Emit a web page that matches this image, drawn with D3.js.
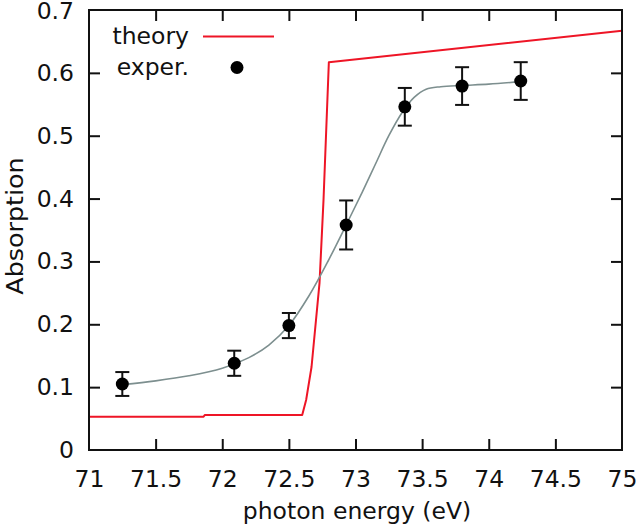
<!DOCTYPE html>
<html>
<head>
<meta charset="utf-8">
<script src="https://cdn.jsdelivr.net/npm/d3@7"></script>
<style>
  html, body { margin: 0; padding: 0; background: #fff; }
  svg { display: block; }
  text { font-family: "DejaVu Sans", sans-serif; fill: #111; }
</style>
</head>
<body>
<svg id="chart" width="640" height="529"></svg>
<script>
// Experimental data
const expEnergy = [71.25, 72.09, 72.50, 72.93, 73.37, 73.80, 74.24];
const expAbs    = [0.105, 0.138, 0.198, 0.358, 0.546, 0.579, 0.587];
const expErr    = [0.019, 0.020, 0.020, 0.039, 0.030, 0.030, 0.030];

// Theory curve
const theoryEnergy = [71.0, 71.86, 71.87, 72.60, 72.63, 72.67, 72.73, 72.76, 72.80, 75.0];
const theoryAbs    = [0.053, 0.053, 0.0557, 0.0557, 0.080, 0.132, 0.266, 0.398, 0.617, 0.667];

// Fit through experimental data
const fitEnergy = [71.25, 71.5, 71.75, 72.0, 72.2, 72.35, 72.5, 72.65, 72.8, 72.93, 73.05, 73.15, 73.25, 73.35, 73.44, 73.53, 73.64, 73.8, 74.0, 74.24];
const fitAbs    = [0.104, 0.110, 0.118, 0.130, 0.147, 0.167, 0.198, 0.245, 0.303, 0.358, 0.410, 0.455, 0.500, 0.537, 0.561, 0.574, 0.578, 0.580, 0.582, 0.586];

// Ticks
const xTicks = [71, 71.5, 72, 72.5, 73, 73.5, 74, 74.5, 75];
const yTicks = [0, 0.1, 0.2, 0.3, 0.4, 0.5, 0.6, 0.7];

const legendLabels = ["theory", "exper."];

const svg = d3.select("#chart");
const L = 89, R = 622, T = 10, B = 450;
const x = d3.scaleLinear().domain([71, 75]).range([L, R]);
const y = d3.scaleLinear().domain([0, 0.7]).range([B, T]);
const tickLen = 11;
const fs = 23.5;

// Theory line
svg.append("path")
  .datum(theoryEnergy.map((e, i) => [e, theoryAbs[i]]))
  .attr("fill", "none").attr("stroke", "#ee1526").attr("stroke-width", 2)
  .attr("stroke-linejoin", "round")
  .attr("d", d3.line().x(d => x(d[0])).y(d => y(d[1])));

// Fit line
svg.append("path")
  .datum(fitEnergy.map((e, i) => [e, fitAbs[i]]))
  .attr("fill", "none").attr("stroke", "#7d8f8f").attr("stroke-width", 1.6)
  .attr("d", d3.line().curve(d3.curveCatmullRom).x(d => x(d[0])).y(d => y(d[1])));

// Error bars & points
const pts = svg.append("g");
expEnergy.forEach((e, i) => {
  const cx = x(e), y1 = y(expAbs[i] + expErr[i]), y2 = y(expAbs[i] - expErr[i]);
  pts.append("line").attr("x1", cx).attr("x2", cx).attr("y1", y1).attr("y2", y2)
    .attr("stroke", "#111").attr("stroke-width", 2);
  [y1, y2].forEach(yy => pts.append("line").attr("x1", cx - 7).attr("x2", cx + 7)
    .attr("y1", yy).attr("y2", yy).attr("stroke", "#111").attr("stroke-width", 2));
  pts.append("circle").attr("cx", cx).attr("cy", y(expAbs[i])).attr("r", 6.5).attr("fill", "#000");
});

// Axes (ticks inside, mirrored)
const axB = d3.axisBottom(x).tickValues(xTicks).tickSizeInner(-tickLen).tickSizeOuter(0).tickPadding(20)
  .tickFormat(d => String(d));
const gB = svg.append("g").attr("transform", `translate(0,${B})`).call(axB);
const axT = d3.axisTop(x).tickValues(xTicks).tickSizeInner(-tickLen).tickSizeOuter(0).tickFormat("");
const gT = svg.append("g").attr("transform", `translate(0,${T})`).call(axT);
const axL = d3.axisLeft(y).tickValues(yTicks).tickSizeInner(-tickLen).tickSizeOuter(0).tickPadding(15)
  .tickFormat(d => d === 0 ? "0" : d3.format(".1f")(d));
const gL = svg.append("g").attr("transform", `translate(${L},0)`).call(axL);
const axR = d3.axisRight(y).tickValues(yTicks).tickSizeInner(-tickLen).tickSizeOuter(0).tickFormat("");
const gR = svg.append("g").attr("transform", `translate(${R},0)`).call(axR);

[gB, gT, gL, gR].forEach(g => {
  g.select(".domain").remove();
  g.selectAll(".tick line").attr("stroke", "#111").attr("stroke-width", 2);
  g.selectAll("text").style("font-family", '"DejaVu Sans", sans-serif').style("font-size", fs + "px").attr("fill", "#111");
});
gL.selectAll(".tick").filter(d => d === 0.7).select("text").attr("dy", "0.38em");
gB.selectAll(".tick").filter(d => d === 71 || d === 75).select("line").remove();
gT.selectAll(".tick").filter(d => d === 71 || d === 75).select("line").remove();
gL.selectAll(".tick").filter(d => d === 0 || d === 0.7).select("line").remove();
gR.selectAll(".tick").filter(d => d === 0 || d === 0.7).select("line").remove();

// Frame
svg.append("rect").attr("x", L).attr("y", T).attr("width", R - L).attr("height", B - T)
  .attr("fill", "none").attr("stroke", "#111").attr("stroke-width", 2);

// Axis titles
svg.append("text").attr("x", 357).attr("y", 519).attr("text-anchor", "middle")
  .style("font-size", fs + "px").text("photon energy (eV)");
svg.append("text").attr("transform", "translate(23,226) rotate(-90) scale(1.08,1)").attr("text-anchor", "middle")
  .style("font-size", fs + "px").text("Absorption");

// Legend
const lg = svg.append("g");
lg.append("text").attr("x", 189).attr("y", 44).attr("text-anchor", "end").style("font-size", fs + "px").text(legendLabels[0]);
lg.append("line").attr("x1", 203).attr("x2", 274).attr("y1", 36.5).attr("y2", 36.5)
  .attr("stroke", "#ee1526").attr("stroke-width", 2);
lg.append("text").attr("x", 189).attr("y", 75).attr("text-anchor", "end").style("font-size", fs + "px").text(legendLabels[1]);
lg.append("circle").attr("cx", 237).attr("cy", 67.5).attr("r", 6.5).attr("fill", "#000");
</script>
</body>
</html>
